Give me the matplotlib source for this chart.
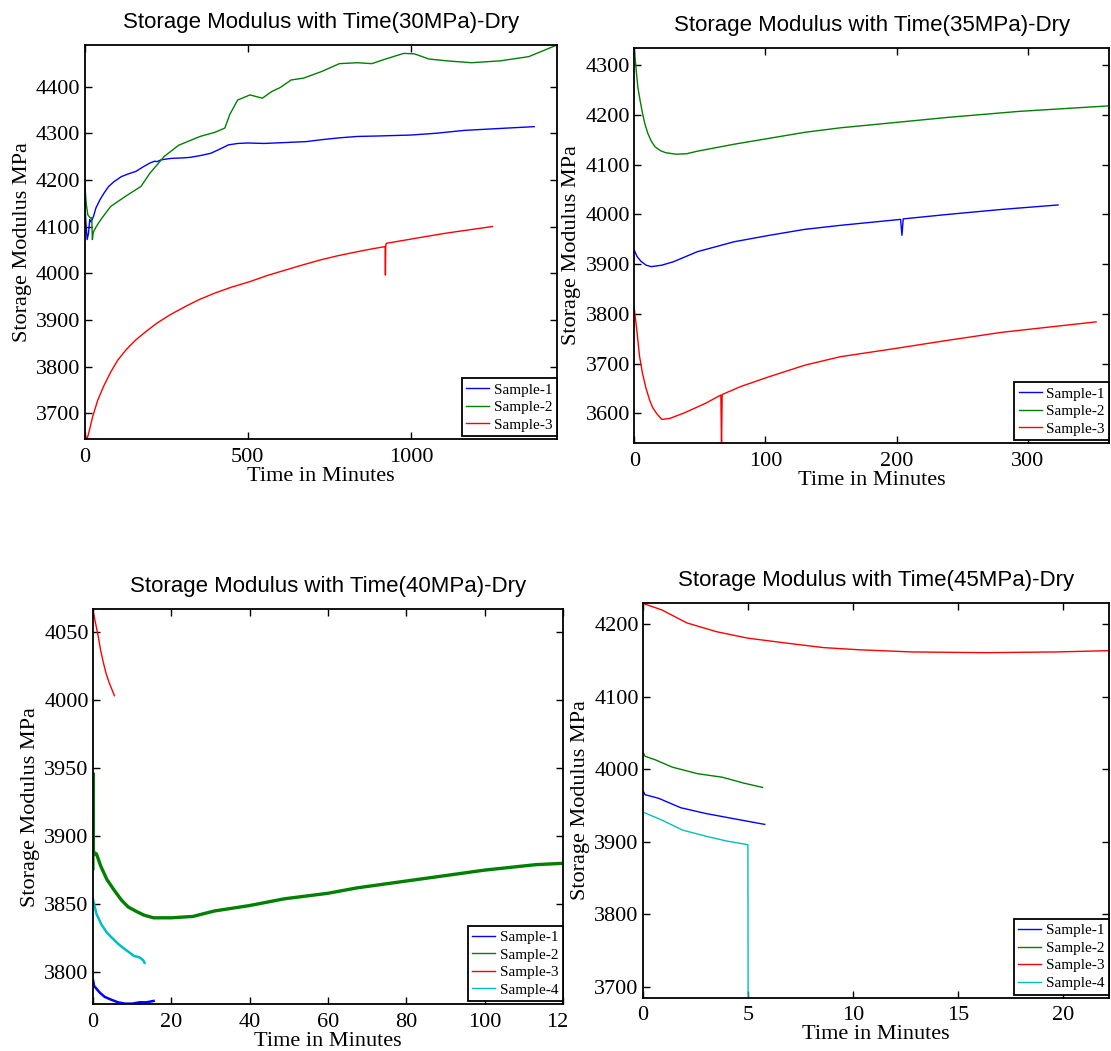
"""Storage modulus vs time, four dry creep stresses, 2x2 MATLAB-style panels."""

import matplotlib

matplotlib.use("Agg")
import matplotlib.pyplot as plt
from matplotlib.patches import Rectangle


SAMPLES = ["Sample-1", "Sample-2", "Sample-3", "Sample-4"]
COLORS = ["#0000ff", "#008000", "#ff0000", "#00bfbf"]

# 30 MPa
T30_S1 = [0, 4, 8, 12, 16, 20, 27, 35, 47, 60, 74, 90, 113, 135, 157, 180, 200, 215, 222,
          235, 266, 300, 321, 355, 387, 415, 441, 470, 500, 550, 617, 680, 726, 780, 836,
          900, 1000, 1080, 1164, 1270, 1378]
E30_S1 = [4165, 4110, 4072, 4085, 4115, 4110, 4121, 4140, 4157, 4172, 4186, 4196, 4207, 4213,
          4218, 4228, 4236, 4240, 4239, 4243, 4246, 4247, 4248, 4252, 4257, 4266, 4275, 4278,
          4279, 4278, 4280, 4282, 4286, 4290, 4293, 4294, 4296, 4300, 4306, 4310, 4314]
T30_S2 = [0, 5, 10, 18, 22, 24, 27, 36, 50, 80, 124, 173, 200, 222, 244, 288, 354, 400, 430,
          445, 469, 507, 545, 573, 600, 633, 671, 726, 781, 836, 880, 923, 978, 1011, 1055,
          1110, 1186, 1274, 1361, 1448]
E30_S2 = [4200, 4150, 4125, 4118, 4119, 4072, 4088, 4100, 4115, 4143, 4164, 4186, 4214, 4232,
          4250, 4274, 4293, 4302, 4311, 4340, 4371, 4382, 4375, 4389, 4398, 4414, 4418, 4432,
          4449, 4451, 4449, 4459, 4471, 4470, 4459, 4455, 4451, 4455, 4464, 4489]
T30_S3 = [0, 4, 7, 12, 25, 40, 58, 80, 102, 130, 157, 190, 222, 260, 310, 350, 398, 450, 507,
          560, 617, 670, 726, 780, 836, 880, 921, 922, 923, 925, 1000, 1050, 1110, 1180, 1250]
E30_S3 = [3664, 3648, 3644, 3655, 3693, 3727, 3757, 3788, 3814, 3838, 3857, 3876, 3893, 3910,
          3929, 3943, 3957, 3970, 3982, 3995, 4007, 4018, 4029, 4038, 4046, 4052, 4057, 3996,
          4060, 4064, 4073, 4079, 4086, 4093, 4100]

# 35 MPa
T35_S1 = [0, 2, 5, 9, 13, 21, 30, 48, 76, 103, 130, 157, 180, 203, 204, 205, 239, 280, 323]
E35_S1 = [3928, 3916, 3906, 3898, 3895, 3898, 3905, 3925, 3945, 3958, 3970, 3978, 3984, 3990,
          3958, 3991, 4000, 4010, 4019]
T35_S2 = [0, 1.3, 2.7, 4.5, 6.3, 8, 10.3, 13, 15.8, 20, 24, 32, 40, 48, 76, 103, 130, 157,
          200, 239, 293, 361]
E35_S2 = [4333, 4295, 4256, 4228, 4203, 4183, 4163, 4147, 4136, 4128, 4124, 4121, 4122, 4127,
          4141, 4153, 4165, 4174, 4185, 4195, 4207, 4218]
T35_S3 = [0, 2.2, 4, 6.3, 9, 11.7, 14, 17, 21, 27, 38, 54, 66, 66.5, 67, 81, 103, 130, 157,
          200, 239, 280, 321, 352]
E35_S3 = [3811, 3761, 3715, 3680, 3650, 3627, 3612, 3600, 3588, 3590, 3601, 3620, 3637, 3530,
          3638, 3654, 3674, 3697, 3714, 3731, 3747, 3763, 3775, 3784]

# 40 MPa
T40_S1 = [0, 0.3, 1.8, 3, 4.6, 6.4, 8.2, 10, 11.9, 13.7, 15.5]
E40_S1 = [3795, 3790, 3785, 3782, 3780, 3778, 3777, 3777, 3778, 3778, 3779]
T40_S2 = [0, 0.05, 0.1, 0.4, 0.9, 2, 3.6, 5.5, 7.3, 9, 10.9, 13, 15.5, 20, 25.5, 31, 40, 49,
          60, 67.5, 80, 90, 100, 113, 120]
E40_S2 = [3876, 3946, 3890, 3887, 3887, 3878, 3868, 3860, 3853, 3848, 3845, 3842, 3840, 3840,
          3841, 3845, 3849, 3854, 3858, 3862, 3867, 3871, 3875, 3879, 3880]
T40_S3 = [0, 0.7, 1.4, 2.0, 2.7, 3.4, 4.1, 4.8, 5.5]
E40_S3 = [4066, 4056, 4046, 4036, 4027, 4019, 4013, 4008, 4003]
T40_S4 = [0, 0.9, 2.2, 3.6, 5, 6.4, 7.7, 9.1, 10.5, 11.9, 12.8, 13.2]
E40_S4 = [3854, 3843, 3835, 3829, 3825, 3821, 3818, 3815, 3812, 3811, 3809, 3807]

# 45 MPa
T45_S1 = [0, 0.1, 0.75, 1.8, 3, 4.3, 5.8]
E45_S1 = [3971, 3965, 3960, 3947, 3939, 3932, 3924]
T45_S2 = [0, 0.1, 0.6, 1.4, 2.6, 3.8, 4.8, 5.7]
E45_S2 = [4024, 4018, 4013, 4003, 3994, 3989, 3981, 3975]
T45_S3 = [0, 0.9, 2.1, 3.5, 5, 6.9, 8.6, 10.3, 12.8, 16.3, 19.7, 22.5]
E45_S3 = [4229, 4220, 4202, 4190, 4181, 4174, 4168, 4165, 4162, 4161, 4162, 4164]
T45_S4 = [0, 0.9, 1.9, 3.1, 4, 5, 5.01]
E45_S4 = [3941, 3930, 3916, 3907, 3901, 3896, 3680]

SERIF = "Liberation Serif"
SANS = "Liberation Sans"


def draw_panel(ax, stress, series, widths, xlim, ylim, xticks, yticks):
    for i, (t, e) in enumerate(series):
        ax.plot(t, e, color=COLORS[i], linewidth=widths[i], label=SAMPLES[i])
    ax.set_xlim(*xlim)
    ax.set_ylim(*ylim)
    ax.set_xticks(xticks)
    ax.set_yticks(yticks)
    ax.tick_params(direction="in", length=5, width=1, top=True, right=True,
                   labelsize=16)
    ax.tick_params(axis="x", pad=6)
    ax.tick_params(axis="y", pad=3)
    for label in ax.get_xticklabels() + ax.get_yticklabels():
        label.set_family(SERIF)
    for spine in ax.spines.values():
        spine.set_linewidth(1.3)
    ax.set_title(f"Storage Modulus with Time({stress}MPa)-Dry", family=SANS,
                 fontsize=16, pad=12)
    ax.set_xlabel("Time in Minutes", family=SERIF, fontsize=16, labelpad=0)
    ax.set_ylabel("Storage Modulus MPa", family=SERIF, fontsize=16, labelpad=3)
    legend = ax.legend(loc="lower right", bbox_to_anchor=(1.0, 0.008),
                       borderaxespad=0, fancybox=False, framealpha=1,
                       prop={"family": SERIF, "size": 11}, handlelength=1.5,
                       handletextpad=0.3, labelspacing=0.25, borderpad=0.3)
    legend.get_frame().set_edgecolor("black")
    legend.get_frame().set_linewidth(1.3)
    for handle in legend.get_lines():
        handle.set_linewidth(1.0)


def main() -> None:
    fig = plt.figure(figsize=(11.11, 10.51), dpi=100)
    ax1 = fig.add_axes([0.0761, 0.5820, 0.4253, 0.3752])
    ax2 = fig.add_axes([0.5709, 0.5782, 0.4275, 0.3764])
    ax3 = fig.add_axes([0.0836, 0.0444, 0.4231, 0.3761])
    ax4 = fig.add_axes([0.5787, 0.0507, 0.4195, 0.3758])

    draw_panel(ax1, 30, [(T30_S1, E30_S1), (T30_S2, E30_S2), (T30_S3, E30_S3)],
               [1.0, 1.0, 1.0], (0, 1448), (3644, 4489), [0, 500, 1000],
               range(3700, 4401, 100))
    draw_panel(ax2, 35, [(T35_S1, E35_S1), (T35_S2, E35_S2), (T35_S3, E35_S3)],
               [1.0, 1.0, 1.0], (0, 362), (3540, 4335), [0, 100, 200, 300],
               range(3600, 4301, 100))
    draw_panel(ax3, 40, [(T40_S1, E40_S1), (T40_S2, E40_S2), (T40_S3, E40_S3),
                         (T40_S4, E40_S4)],
               [1.8, 2.4, 1.0, 1.8], (0, 120), (3776.5, 4066.6),
               range(0, 121, 20), range(3800, 4051, 50))
    draw_panel(ax4, 45, [(T45_S1, E45_S1), (T45_S2, E45_S2), (T45_S3, E45_S3),
                         (T45_S4, E45_S4)],
               [1.0, 1.0, 1.0, 1.0], (0, 22.2), (3684.8, 4229.9),
               [0, 5, 10, 15, 20], range(3700, 4201, 100))

    # the right-hand images overlap the left ones in the original composite
    ax4.set_zorder(2)
    fig.patches.append(Rectangle((567 / 1111, 0), 1, 0.5, transform=fig.transFigure,
                                 facecolor="white", edgecolor="none", zorder=1))

    fig.savefig("out.png", dpi=100)
    plt.close(fig)


if __name__ == "__main__":
    main()
